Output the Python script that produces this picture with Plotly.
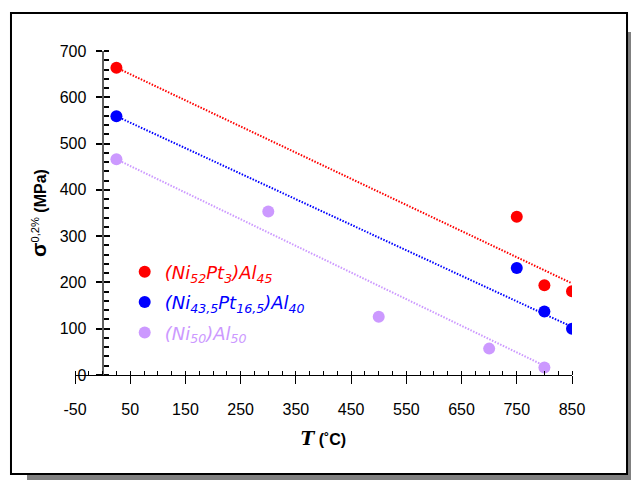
import plotly.graph_objects as go

# ---- data ----
temps_red = [25, 750, 800, 850]
sigma_red = [664, 342, 194, 181]
temps_blue = [25, 750, 800, 850]
sigma_blue = [559, 231, 137, 100]
temps_purple = [25, 300, 500, 700, 800]
sigma_purple = [466, 353, 126, 57, 16]

trend_x_red = [25, 850]
trend_y_red = [664, 198]
trend_x_blue = [25, 850]
trend_y_blue = [559, 104]
trend_x_purple = [25, 800]
trend_y_purple = [466, 20]

x_tickvals = [-50, 50, 150, 250, 350, 450, 550, 650, 750, 850]
x_ticktext = ["-50", "50", "150", "250", "350", "450", "550", "650", "750", "850"]
y_tickvals = [0, 100, 200, 300, 400, 500, 600, 700]
y_ticktext = ["0", "100", "200", "300", "400", "500", "600", "700"]

names = [
    '<span style="color:#FF0000">(Ni<sub>52</sub>Pt<sub>3</sub>)Al<sub>45</sub></span>',
    '<span style="color:#0000FF">(Ni<sub>43,5</sub>Pt<sub>16,5</sub>)Al<sub>40</sub></span>',
    '<span style="color:#CC99FF">(Ni<sub>50</sub>)Al<sub>50</sub></span>',
]

RED, BLUE, PURPLE = "#FF0000", "#0000FF", "#CC99FF"
DASH = "1.5px,1.5px"

fig = go.Figure()
for tx, ty, c in [(trend_x_red, trend_y_red, RED), (trend_x_blue, trend_y_blue, BLUE),
                  (trend_x_purple, trend_y_purple, PURPLE)]:
    fig.add_trace(go.Scatter(x=tx, y=ty, mode="lines", line=dict(color=c, width=2, dash=DASH),
                             showlegend=False, hoverinfo="skip"))

for i, (xs, ys, c, n) in enumerate([(temps_red, sigma_red, RED, names[0]),
                                    (temps_blue, sigma_blue, BLUE, names[1]),
                                    (temps_purple, sigma_purple, PURPLE, names[2])]):
    fig.add_trace(go.Scatter(x=xs, y=ys, mode="markers", name=n, legendgroup=f"g{i}",
                             marker=dict(color=c, size=12, line=dict(width=0))))

# invisible trace to hold overlay axes (crossing ticks)
fig.add_trace(go.Scatter(x=[None], y=[None], xaxis="x2", yaxis="y2", showlegend=False, hoverinfo="skip"))

YPOS = 50 / 900
tickfont = dict(family="Liberation Sans", size=16, color="black")

fig.update_layout(
    width=631, height=480,
    margin=dict(l=75, r=59, t=51, b=105, autoexpand=False),
    paper_bgcolor="white", plot_bgcolor="rgba(0,0,0,0)",
    showlegend=True,
    legend=dict(x=0.10, y=0.375, xanchor="left", yanchor="top",
                traceorder="grouped", tracegroupgap=4,
                font=dict(family="DejaVu Sans", size=18, style="italic"),
                bgcolor="rgba(0,0,0,0)", itemclick=False),
    xaxis=dict(range=[-50, 850], tickmode="array", tickvals=x_tickvals, ticktext=x_ticktext,
               ticks="outside", ticklen=8, tickwidth=1, tickcolor="black",
               minor=dict(ticks="inside", tick0=-50, dtick=25, ticklen=4, tickcolor="black", tickwidth=1),
               showline=True, linecolor="black", linewidth=1, showgrid=False, zeroline=False,
               tickfont=tickfont, ticklabelstandoff=12, anchor="y", automargin=False,
               title=dict(text='<b><i style="font-family:DejaVu Serif;font-size:18px">T</i> (˚C)</b>',
                          font=dict(family="Liberation Sans", size=16, color="black"), standoff=16)),
    xaxis2=dict(range=[-50, 850], overlaying="x", tickmode="array", tickvals=x_tickvals,
                ticks="inside", ticklen=3, tickwidth=1, tickcolor="black",
                showticklabels=False, showline=False, showgrid=False, zeroline=False, anchor="y2"),
    yaxis=dict(range=[0, 700], tickmode="array", tickvals=y_tickvals, ticktext=y_ticktext,
               ticks="outside", ticklen=6, tickwidth=1.5, tickcolor="black",
               minor=dict(ticks="inside", tick0=0, dtick=20, ticklen=5, tickcolor="black", tickwidth=1.5),
               showline=True, linecolor="#606060", linewidth=2, showgrid=False, zeroline=False,
               tickfont=tickfont, ticklabelstandoff=6, anchor="free", position=YPOS, automargin=False,
               title=dict(text='<b><span style="font-size:21px">σ</span></b><sup>0,2%</sup><b> (MPa)</b>',
                          font=dict(family="Liberation Sans", size=16, color="black"), standoff=8)),
    yaxis2=dict(range=[0, 700], overlaying="y", tickmode="array", tickvals=y_tickvals,
                ticks="inside", ticklen=6, tickwidth=1.5, tickcolor="black",
                showticklabels=False, showline=False, showgrid=False, zeroline=False,
                anchor="free", position=YPOS),
    shapes=[
        dict(type="rect", xref="paper", yref="paper", x0=-0.0966, x1=1.125, y0=-0.33, y1=1.0586,
             fillcolor="#808080", line=dict(width=0), layer="below"),
        dict(type="rect", xref="paper", yref="paper", x0=-0.1288, x1=1.1107, y0=-0.3056, y1=1.1173,
             fillcolor="white", line=dict(color="black", width=2), layer="below"),
    ],
)

fig.write_html("out.html", config={"displayModeBar": False},
               post_script="document.body.style.margin='0px';document.body.style.overflow='hidden';")
